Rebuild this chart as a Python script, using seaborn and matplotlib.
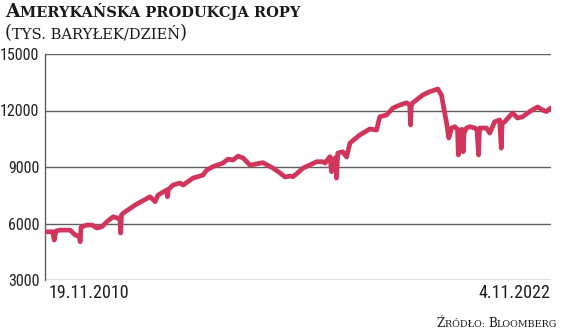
import matplotlib
matplotlib.use("Agg")
import matplotlib.pyplot as plt
import seaborn as sns
import pandas as pd
from matplotlib import font_manager

dates = [
    "2010-11-19", "2011-01-21", "2011-02-04", "2011-02-18", "2011-03-27", "2011-06-21",
    "2011-08-04", "2011-09-09", "2011-09-16", "2011-09-23", "2011-09-30", "2011-11-14",
    "2011-12-28", "2012-02-07", "2012-03-22", "2012-05-05", "2012-06-28", "2012-07-30",
    "2012-08-24", "2012-08-31", "2012-09-07", "2012-09-22", "2013-01-03", "2013-05-12",
    "2013-06-25", "2013-07-20", "2013-10-03", "2013-10-10", "2013-10-17", "2013-11-26",
    "2014-01-26", "2014-02-21", "2014-05-18", "2014-08-13", "2014-09-14", "2014-11-07",
    "2015-02-02", "2015-03-17", "2015-04-29", "2015-06-12", "2015-07-25", "2015-09-23",
    "2016-01-13", "2016-04-09", "2016-06-09", "2016-07-22", "2016-09-03", "2016-09-28",
    "2016-11-10", "2016-12-24", "2017-04-22", "2017-06-15", "2017-07-02", "2017-08-14",
    "2017-08-28", "2017-09-08", "2017-10-03", "2017-10-10", "2017-10-21", "2017-12-03",
    "2018-01-05", "2018-02-03", "2018-04-29", "2018-07-25", "2018-09-21", "2018-10-19",
    "2018-12-16", "2019-02-09", "2019-04-10", "2019-06-07", "2019-07-05", "2019-07-12",
    "2019-07-19", "2019-07-31", "2019-09-01", "2019-10-25", "2019-12-25", "2020-03-03",
    "2020-04-04", "2020-05-18", "2020-06-07", "2020-06-30", "2020-07-28", "2020-08-21",
    "2020-08-28", "2020-09-04", "2020-09-09", "2020-09-30", "2020-10-09", "2020-10-16",
    "2020-11-06", "2020-12-05", "2021-01-17", "2021-02-05", "2021-02-19", "2021-02-26",
    "2021-03-01", "2021-04-28", "2021-05-26", "2021-07-08", "2021-08-20", "2021-09-03",
    "2021-09-10", "2021-10-02", "2021-12-09", "2022-01-22", "2022-03-07", "2022-05-06",
    "2022-07-14", "2022-08-26", "2022-09-27", "2022-11-04",
]
production = [
    5560, 5560, 5120, 5600, 5650, 5650,
    5390, 5300, 5030, 5800, 5830, 5920,
    5920, 5760, 5830, 6100, 6360, 6290,
    6300, 5490, 6450, 6550, 6980, 7420,
    7160, 7510, 7780, 7420, 7800, 8040,
    8150, 8040, 8410, 8570, 8840, 9020,
    9210, 9420, 9370, 9580, 9480, 9100,
    9230, 8940, 8680, 8470, 8520, 8480,
    8700, 8940, 9280, 9280, 9210, 9550,
    8750, 9400, 9500, 8410, 9740, 9810,
    9530, 10270, 10700, 11020, 10960, 11670,
    11760, 12130, 12290, 12410, 12300, 11230,
    12350, 12400, 12560, 12820, 13000, 13140,
    12820, 11340, 10540, 11070, 11140, 11000,
    9640, 10900, 10960, 11000, 9810, 10800,
    11070, 11140, 11070, 11000, 9640, 10900,
    11070, 11070, 10800, 11400, 11500, 10000,
    11300, 11400, 11870, 11600, 11670, 11940,
    12190, 12030, 11940, 12130,
]
y_ticks = [3000, 6000, 9000, 12000, 15000]
x_labels = ["19.11.2010", "4.11.2022"]

title_1 = [("A", 13.5), ("MERYKAŃSKA PRODUKCJA ROPY", 10.5)]
title_2 = [("(", 13), ("TYS. BARYŁEK/DZIEŃ", 10.6), (")", 13)]
source = [("Ź", 8.6), ("RÓDŁO: ", 6.9), ("B", 8.6), ("LOOMBERG", 6.9)]

sns.set_theme(style="white")
installed = {f.name for f in font_manager.fontManager.ttflist}
sans = "DejaVu Sans"
for cand in ["Liberation Sans Narrow", "Roboto Condensed", "Open Sans Condensed", "Roboto"]:
    if cand in installed:
        sans = cand
        break
plt.rcParams["font.family"] = [sans, "DejaVu Sans"]

df = pd.DataFrame({"date": pd.to_datetime(dates), "value": production})

fig = plt.figure(figsize=(5.64, 3.34), dpi=100)
ax = fig.add_axes([45 / 564, 1 - 280 / 334, 506 / 564, 226 / 334])

grid_c = "#5f5f5f"
for v in y_ticks:
    ax.axhline(v, color=grid_c, lw=1.0, zorder=1)

sns.lineplot(data=df, x="date", y="value", ax=ax, color="#d1355b", lw=3.4,
             zorder=3, solid_joinstyle="round", solid_capstyle="round")

ax.set_ylim(3000, 15000)
ax.set_xlim(df["date"].iloc[0] - pd.Timedelta(days=3), df["date"].iloc[-1] + pd.Timedelta(days=3))
ax.set_yticks(y_ticks)
ax.set_yticklabels([str(v) for v in y_ticks], fontsize=11.5, color="#222222")
ax.set_xticks([df["date"].iloc[0], df["date"].iloc[-1]])
ax.set_xticklabels(x_labels, fontsize=13, color="#1e1e1e")
labs = ax.get_xticklabels()
labs[0].set_ha("left")
labs[1].set_ha("right")
ax.tick_params(axis="both", length=0)
ax.tick_params(axis="y", pad=4)
ax.tick_params(axis="x", pad=3)
ax.set_xlabel("")
ax.set_ylabel("")
for s in ["top", "right", "bottom"]:
    ax.spines[s].set_visible(False)
ax.spines["left"].set_color(grid_c)
ax.spines["left"].set_linewidth(1.0)
ax.set_facecolor("white")

# shift first date label slightly right as in reference
import matplotlib.transforms as mtrans
labs[0].set_transform(labs[0].get_transform() + mtrans.ScaledTranslation(3 / 100, 0, fig.dpi_scale_trans))


def draw_segments(segments, x, y, ha="left", weight="normal"):
    fig.canvas.draw()
    r = fig.canvas.get_renderer()
    texts = []
    widths = []
    for t, s in segments:
        tx = fig.text(0, 0, t, fontsize=s, family="DejaVu Serif", fontweight=weight,
                      color="#1a1a1a", ha="left", va="baseline")
        bb = tx.get_window_extent(renderer=r)
        texts.append(tx)
        widths.append(bb.width)
    total = sum(widths)
    start = x if ha == "left" else x - total
    cur = start
    for tx, w in zip(texts, widths):
        tx.set_position((cur / 564, 1 - y / 334))
        cur += w


draw_segments(title_1, 5, 17, weight="bold")
draw_segments(title_2, 5, 38)
draw_segments(source, 557, 327, ha="right")

fig.savefig("out.png", dpi=100)
